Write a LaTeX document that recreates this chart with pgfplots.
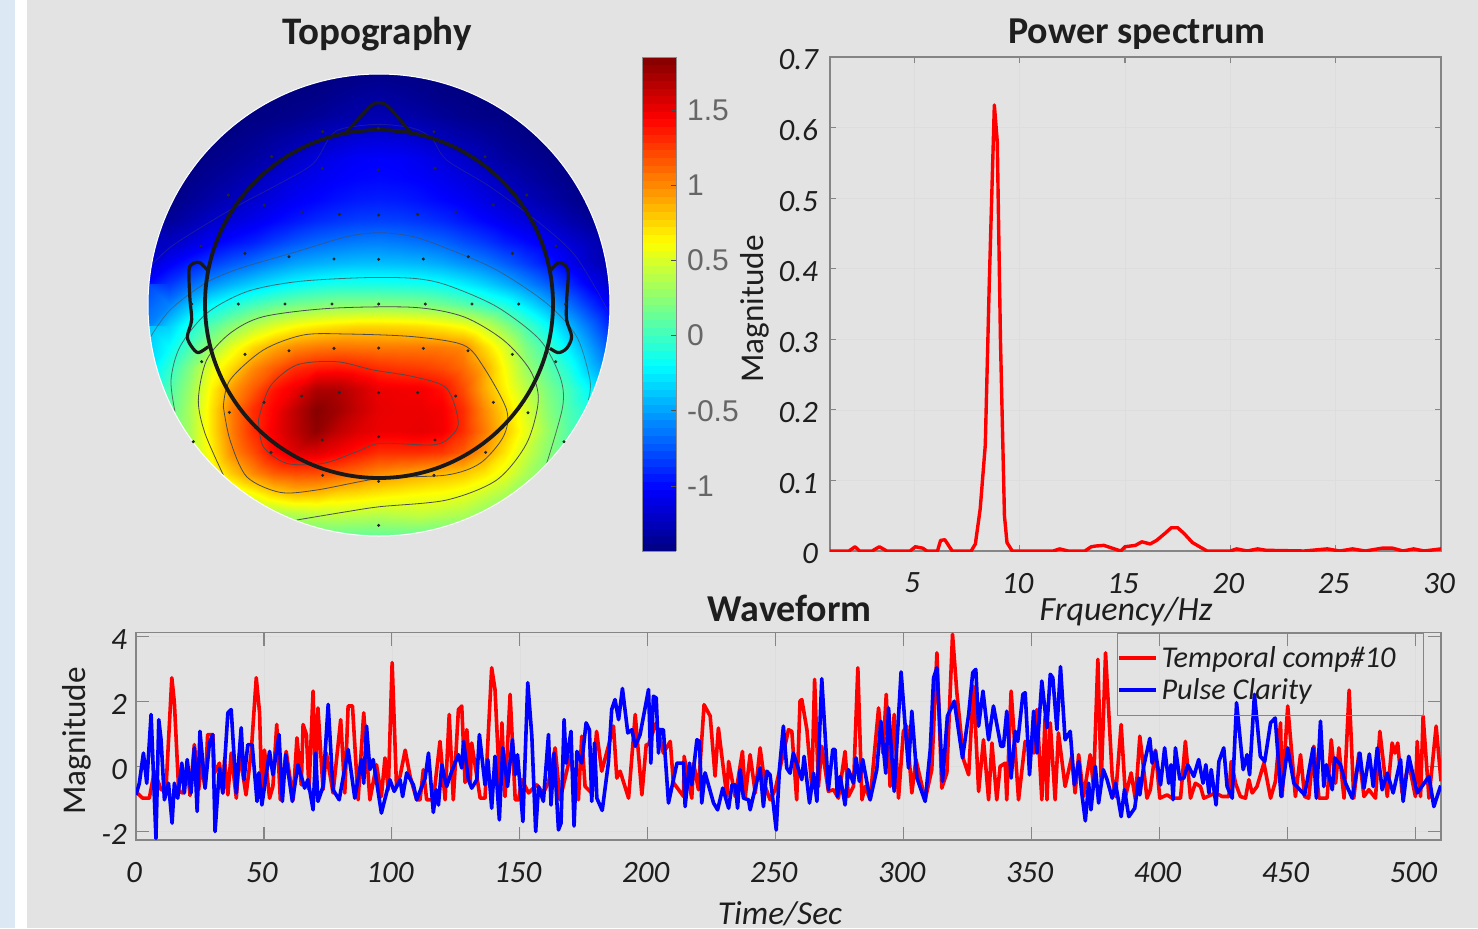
\documentclass[border=0pt]{standalone}
\usepackage{fontspec}
\usepackage{pgfplots}
\pgfplotsset{compat=1.18}
\setmainfont{Carlito}
\newfontfamily\cbfont{Liberation Sans}
\definecolor{bggray}{HTML}{E3E3E3}
\definecolor{framegray}{HTML}{858585}
\definecolor{gridgray}{HTML}{DDDDDD}
\definecolor{tl}{HTML}{1E1E1E}
\definecolor{stripblue}{HTML}{DCE8F4}
\pgfplotsset{
  plotaxis/.style={
    scale only axis, axis on top=false,
    axis line style={framegray,line width=0.7pt},
    tick style={framegray,line width=0.6pt},
    tick align=inside,
    grid=major, major grid style={gridgray,line width=0.3pt},
    tick label style={font=\itshape\fontsize{15.5}{16}\selectfont,text=tl},
    label style={text=tl},
    title style={font=\bfseries\fontsize{19}{20}\selectfont,text=tl},
  }
}
\begin{document}
\begin{tikzpicture}
\path[use as bounding box] (0,0) rectangle (739pt,464pt);
\fill[bggray] (0,0) rectangle (739pt,464pt);
\fill[white] (0,0) rectangle (13.5pt,464pt);
\fill[stripblue] (0,0) rectangle (7.5pt,464pt);

% Topography
\begin{axis}[
  at={(65pt,189pt)},anchor=south west,scale only axis,width=250pt,height=245pt,
  xmin=0,xmax=1500,ymin=0,ymax=1470,y dir=reverse,hide axis,clip=false,
  colormap/jet,point meta min=-1.432,point meta max=1.852,
  colorbar sampled,
  colorbar style={samples=65,at={(1.024,1.006)},anchor=north west,scale only axis,
    width=17pt,height=247pt,
    ytick={-1,-0.5,0,0.5,1,1.5},yticklabels={-1,-0.5,0,0.5,1,1.5},
    ytick pos=right,yticklabel pos=right,tick align=inside,
    major tick length=2.5pt,tick style={black!70,line width=0.4pt},
    axis line style={black!45,line width=0.4pt},
    yticklabel style={font=\cbfont\fontsize{15}{15}\selectfont,text=black!60,xshift=2pt},
  },
]
\addplot[surf,shader=interp,mesh/cols=23,point meta=explicit] table[
  row sep=\\,header=false,
  x expr={54+63*mod(\coordindex,23)},
  y expr={42+63*floor(\coordindex/23)},
  meta index=0] {
-1.43\\-1.43\\-1.43\\-1.43\\-1.43\\-1.43\\-1.43\\-1.43\\-1.43\\-1.42\\-1.41\\-1.40\\-1.41\\-1.42\\-1.43\\-1.43\\-1.43\\-1.43\\-1.43\\-1.43\\-1.43\\-1.43\\-1.43\\
-1.43\\-1.43\\-1.43\\-1.43\\-1.43\\-1.43\\-1.43\\-1.42\\-1.41\\-1.38\\-1.35\\-1.33\\-1.35\\-1.38\\-1.41\\-1.42\\-1.43\\-1.43\\-1.43\\-1.43\\-1.43\\-1.43\\-1.43\\
-1.43\\-1.43\\-1.43\\-1.43\\-1.43\\-1.42\\-1.41\\-1.39\\-1.36\\-1.32\\-1.29\\-1.28\\-1.29\\-1.32\\-1.36\\-1.39\\-1.41\\-1.42\\-1.43\\-1.43\\-1.43\\-1.43\\-1.43\\
-1.43\\-1.43\\-1.43\\-1.43\\-1.41\\-1.38\\-1.34\\-1.30\\-1.25\\-1.20\\-1.16\\-1.15\\-1.16\\-1.20\\-1.25\\-1.30\\-1.34\\-1.38\\-1.41\\-1.43\\-1.43\\-1.43\\-1.43\\
-1.43\\-1.43\\-1.43\\-1.40\\-1.37\\-1.33\\-1.27\\-1.20\\-1.14\\-1.08\\-1.04\\-1.03\\-1.04\\-1.08\\-1.14\\-1.20\\-1.27\\-1.33\\-1.37\\-1.40\\-1.43\\-1.43\\-1.43\\
-1.43\\-1.43\\-1.40\\-1.36\\-1.31\\-1.25\\-1.18\\-1.12\\-1.07\\-1.03\\-1.01\\-1.00\\-1.01\\-1.03\\-1.07\\-1.12\\-1.18\\-1.25\\-1.31\\-1.36\\-1.40\\-1.43\\-1.43\\
-1.43\\-1.42\\-1.36\\-1.30\\-1.24\\-1.18\\-1.11\\-1.05\\-1.01\\-0.97\\-0.94\\-0.93\\-0.94\\-0.97\\-1.01\\-1.05\\-1.11\\-1.18\\-1.24\\-1.30\\-1.36\\-1.42\\-1.43\\
-1.40\\-1.35\\-1.28\\-1.20\\-1.14\\-1.08\\-1.01\\-0.95\\-0.89\\-0.85\\-0.82\\-0.81\\-0.82\\-0.85\\-0.89\\-0.95\\-1.01\\-1.08\\-1.14\\-1.20\\-1.28\\-1.35\\-1.40\\
-1.30\\-1.22\\-1.14\\-1.05\\-0.98\\-0.92\\-0.83\\-0.75\\-0.69\\-0.65\\-0.62\\-0.61\\-0.63\\-0.66\\-0.70\\-0.77\\-0.84\\-0.93\\-1.00\\-1.07\\-1.16\\-1.24\\-1.32\\
-1.18\\-1.05\\-0.94\\-0.83\\-0.74\\-0.66\\-0.57\\-0.50\\-0.46\\-0.43\\-0.41\\-0.41\\-0.42\\-0.44\\-0.48\\-0.55\\-0.62\\-0.72\\-0.83\\-0.95\\-1.07\\-1.20\\-1.30\\
-1.00\\-0.85\\-0.69\\-0.55\\-0.44\\-0.35\\-0.27\\-0.20\\-0.15\\-0.12\\-0.12\\-0.12\\-0.13\\-0.14\\-0.18\\-0.25\\-0.34\\-0.45\\-0.58\\-0.72\\-0.88\\-1.05\\-1.20\\
-0.80\\-0.60\\-0.38\\-0.20\\-0.08\\0.03\\0.12\\0.18\\0.22\\0.25\\0.25\\0.25\\0.24\\0.22\\0.17\\0.10\\0.00\\-0.10\\-0.27\\-0.45\\-0.65\\-0.85\\-1.05\\
-0.60\\-0.35\\-0.12\\0.08\\0.25\\0.40\\0.52\\0.62\\0.68\\0.72\\0.75\\0.75\\0.74\\0.72\\0.67\\0.60\\0.45\\0.25\\0.03\\-0.18\\-0.42\\-0.65\\-0.90\\
-0.40\\-0.20\\0.05\\0.30\\0.55\\0.75\\0.90\\1.00\\1.05\\1.07\\1.06\\1.05\\1.05\\1.05\\1.04\\1.00\\0.75\\0.50\\0.20\\0.00\\-0.25\\-0.50\\-0.75\\
-0.30\\-0.05\\0.22\\0.55\\0.75\\1.00\\1.15\\1.30\\1.36\\1.38\\1.35\\1.30\\1.27\\1.25\\1.20\\1.10\\0.90\\0.60\\0.30\\0.10\\-0.10\\-0.38\\-0.60\\
-0.20\\0.05\\0.30\\0.65\\0.95\\1.15\\1.38\\1.50\\1.70\\1.70\\1.60\\1.50\\1.48\\1.47\\1.40\\1.20\\0.90\\0.65\\0.40\\0.20\\0.02\\-0.20\\-0.40\\
-0.10\\0.10\\0.35\\0.70\\1.05\\1.30\\1.45\\1.65\\1.83\\1.75\\1.62\\1.52\\1.50\\1.50\\1.47\\1.30\\1.00\\0.75\\0.50\\0.25\\0.05\\-0.10\\-0.25\\
0.00\\0.12\\0.35\\0.70\\1.05\\1.30\\1.48\\1.65\\1.80\\1.65\\1.55\\1.50\\1.50\\1.52\\1.48\\1.30\\1.05\\0.80\\0.55\\0.30\\0.08\\-0.05\\-0.15\\
0.05\\0.15\\0.35\\0.65\\1.00\\1.20\\1.42\\1.55\\1.55\\1.47\\1.38\\1.30\\1.30\\1.30\\1.27\\1.15\\0.95\\0.70\\0.45\\0.25\\0.10\\0.00\\-0.10\\
0.10\\0.15\\0.30\\0.55\\0.80\\1.00\\1.15\\1.20\\1.20\\1.15\\1.08\\1.00\\0.95\\0.90\\0.85\\0.80\\0.70\\0.55\\0.35\\0.20\\0.10\\0.05\\0.00\\
0.10\\0.10\\0.20\\0.30\\0.45\\0.60\\0.75\\0.83\\0.82\\0.75\\0.72\\0.68\\0.65\\0.62\\0.60\\0.55\\0.45\\0.35\\0.22\\0.15\\0.10\\0.10\\0.10\\
0.10\\0.10\\0.10\\0.15\\0.20\\0.25\\0.30\\0.36\\0.40\\0.42\\0.40\\0.38\\0.40\\0.42\\0.38\\0.35\\0.25\\0.18\\0.12\\0.10\\0.10\\0.10\\0.10\\
0.12\\0.12\\0.12\\0.12\\0.12\\0.12\\0.12\\0.12\\0.12\\0.12\\0.12\\0.12\\0.12\\0.12\\0.12\\0.12\\0.12\\0.12\\0.12\\0.12\\0.12\\0.12\\0.12\\
};
% contours
\addplot[smooth,black!70,opacity=0.35,line width=0.4pt] coordinates {(60,620)(130,555)(300,450)(450,370)(550,310)(600,230)(640,205)(747,193)(850,205)(905,235)(950,300)(1080,380)(1230,490)(1330,580)(1400,690)(1432,750)};
\addplot[smooth,black!70,opacity=0.6,line width=0.4pt] coordinates {(62,830)(120,750)(225,670)(330,625)(500,575)(650,530)(750,518)(850,530)(950,565)(1100,630)(1250,730)(1340,830)(1380,960)(1375,1020)};
\addplot[smooth,black!70,opacity=0.8,line width=0.4pt] coordinates {(135,1055)(123,960)(150,860)(230,760)(350,695)(500,665)(700,653)(850,655)(950,675)(1100,740)(1230,840)(1290,950)(1298,1040)(1250,1210)};
\addplot[smooth,black!70,line width=0.4pt] coordinates {(280,1245)(225,1120)(205,1020)(230,900)(300,820)(400,770)(600,745)(850,742)(1000,770)(1120,840)(1200,930)(1225,1020)(1190,1150)(1100,1260)(950,1320)(750,1340)(650,1355)(500,1380)};
\addplot[smooth,black!70,line width=0.4pt] coordinates {(280,1040)(300,960)(400,870)(520,825)(650,822)(850,830)(1000,855)(1060,920)(1130,1050)(1120,1130)(1050,1210)(950,1245)(750,1255)(560,1290)(450,1297)(350,1250)(300,1140)(280,1040)};
\addplot[smooth,black!70,line width=0.4pt] coordinates {(385,1080)(420,980)(500,915)(620,905)(730,930)(850,950)(950,985)(985,1090)(950,1140)(900,1155)(750,1150)(680,1175)(580,1210)(470,1210)(400,1160)(385,1080)};
% electrodes
\addplot[only marks,mark=*,mark size=0.55pt,black!85] coordinates {(745,205)(578,215)(912,215)(745,330)(577,325)(915,325)(403,435)(1090,435)(515,455)(628,463)(746,465)(863,463)(977,455)(213,558)(1278,558)(345,580)(477,590)(612,597)(746,598)(880,597)(1015,590)(1147,580)(185,732)(325,732)(465,732)(606,732)(746,732)(886,732)(1026,732)(1166,732)(1307,732)(345,883)(477,872)(612,865)(746,864)(880,865)(1014,872)(1147,883)(215,905)(1277,905)(515,1008)(628,998)(746,998)(863,998)(977,1008)(402,1027)(1090,1027)(298,1057)(1194,1058)(190,1145)(1302,1145)(577,1140)(746,1130)(915,1140)(423,1177)(1067,1177)(578,1246)(912,1246)(746,1264)(746,1396)(425,290)(1065,290)(295,405)(1190,405)};
% mask
\fill[bggray,even odd rule] (axis cs:30,20) rectangle (axis cs:1465,1450) (axis cs:747,735) circle[radius=115.5pt];
\draw[white,line width=0.5pt] (axis cs:747,735) circle[radius=115.5pt];
% head
\addplot[black!90,line width=1.6pt,smooth,line join=round] coordinates {(650,215)(720,140)(745,128)(775,140)(840,215)};
\addplot[black!90,line width=1.6pt,smooth,line join=round] coordinates {(232,630)(210,608)(190,610)(177,630)(180,720)(185,780)(172,830)(185,860)(205,878)(235,860)};
\addplot[black!90,line width=1.6pt,smooth,line join=round] coordinates {(1263,630)(1285,608)(1305,615)(1315,640)(1310,720)(1310,780)(1325,830)(1310,865)(1285,878)(1260,865)};
\draw[black!90,line width=1.9pt] (axis cs:747,732) circle[radius=87pt];
\node[font=\bfseries\fontsize{19.5}{20}\selectfont,text=tl] at (axis cs:741,-78) {Topography};
\end{axis}

% Power spectrum
\begin{axis}[plotaxis,
  at={(415pt,188.5pt)},anchor=south west,width=305.5pt,height=247pt,
  xmin=1,xmax=30,ymin=0,ymax=0.7,
  xtick={5,10,15,20,25,30},xticklabels={5,10,15,20,25,30},
  ytick={0,0.1,0.2,0.3,0.4,0.5,0.6,0.7},yticklabels={0,0.1,0.2,0.3,0.4,0.5,0.6,0.7},
  major tick length=3pt,
  xticklabel style={yshift=-7.5pt,xshift=-1pt},
  yticklabel style={xshift=-2.5pt,yshift=-1.5pt},
  title=Power spectrum,title style={at={(0.5025,1.0506)},anchor=center,yshift=-7pt},
  xlabel=Frquency/Hz,ylabel=Magnitude,
  every axis x label/.style={at={(axis description cs:0.4845,-0.1194)},anchor=center,yshift=-1pt,font=\itshape\fontsize{17}{18}\selectfont,text=tl},
  every axis y label/.style={at={(axis description cs:-0.1227,0.4899)},anchor=center,rotate=90,font=\fontsize{16.6}{17}\selectfont,text=tl},
]
\addplot[red,line width=1.7pt,line join=round] coordinates {(1,0)(1.9,0)(2.19,.006)(2.4,0)(3.0,0)(3.34,.006)(3.7,0)(4.8,0)(5.05,.006)(5.4,.004)(5.6,0)(6.1,0)(6.25,.015)(6.45,.016)(6.8,0)(7.7,0)(7.9,.01)(8.13,.06)(8.37,.15)(8.56,.38)(8.8,.632)(8.94,.58)(9.09,.3)(9.28,.05)(9.4,.012)(9.65,0)(11.6,0)(11.9,.003)(12.3,0)(13.1,0)(13.4,.006)(13.6,.007)(14,.008)(14.4,.004)(14.8,0)(15,.006)(15.5,.008)(15.8,.013)(16.2,.010)(16.5,.015)(16.9,.025)(17.2,.033)(17.5,.033)(17.8,.025)(18.2,.012)(18.6,.005)(18.9,0)(20,0)(20.3,.003)(20.8,0)(21.3,.003)(21.7,.001)(23.5,0)(24.6,.003)(25.2,0)(25.8,.003)(26.4,0)(27.2,.004)(27.7,.004)(28.2,0)(28.7,.003)(29.2,0)(30,.003)};
\end{axis}

% Waveform
\begin{axis}[plotaxis,
  at={(68pt,44pt)},anchor=south west,width=652.5pt,height=103.65pt,
  xmin=0,xmax=510,ymin=-2.27,ymax=4.12,
  xtick={0,50,...,500},xticklabels={0,50,100,150,200,250,300,350,400,450,500},
  ytick={-2,0,2,4},yticklabels={-2,0,2,4},
  major tick length=6.5pt,
  xticklabel style={yshift=-7.5pt,xshift=-1pt},
  yticklabel style={xshift=-1pt,yshift=-1.5pt},
  title=Waveform,title style={at={(0.501,1.119)},anchor=center,yshift=-6pt},
  xlabel=Time/Sec,ylabel=Magnitude,
  every axis x label/.style={at={(axis description cs:0.4935,-0.352)},anchor=center,yshift=-0.5pt,font=\itshape\fontsize{16.7}{17}\selectfont,text=tl},
  every axis y label/.style={at={(axis description cs:-0.0452,0.4776)},anchor=center,rotate=90,font=\fontsize{16.6}{17}\selectfont,text=tl},
  legend style={at={(0.987,1.0)},anchor=north east,draw=framegray,fill=none,line width=0.5pt,
    font=\itshape\fontsize{15.1}{16}\selectfont,text=tl,row sep=0pt,inner xsep=0pt,inner ysep=4.5pt},
  legend cell align=left,
  legend image code/.code={\draw[#1,line width=1.7pt] (0pt,0pt) -- (18.5pt,0pt);},
]
\addplot[red,line width=1.8pt,line join=round] coordinates {(0.6,-.83)(2.6,-.98)(5.2,-.98)(7.2,-.15)(9.8,-.72)(11.7,-.72)(14,2.73)(15,1.96)(16.7,-.77)(18.3,-.82)(20.2,-.1)(21.1,-.9)(22.8,.67)(24.5,-.72)(25.5,.1)(27,-.67)(28,.98)(30,.98)(30.7,-.2)(32.6,.1)(34,-.82)(34.6,.2)(35.9,-.88)(37.2,.41)(39.2,-.98)(40.5,.41)(43,-.88)(45,.41)(47,2.73)(48.3,1.65)(49.2,-1.03)(50.2,.5)(52.2,-.98)(53.5,-.62)(55,1.29)(56.4,-1.03)(58.7,.46)(61.4,-1.03)(62.9,.88)(64.6,-.57)(65.3,1.29)(66.6,.98)(67.6,-.72)(69.2,2.32)(70.2,-.62)(71.1,1.8)(73.1,-.72)(74.4,.41)(77,-.82)(80,1.44)(81.6,-.82)(82.9,1.86)(84.6,1.86)(86.8,-1.03)(89,1.65)(91.4,-1.03)(94,.05)(95.9,-.93)(97.3,.26)(98.6,-.72)(100.1,3.2)(101.8,-.62)(103.2,-.3)(105.2,.5)(107.1,-.3)(109.7,-1.03)(111,-1.03)(112.3,-.1)(113.6,-1.03)(116.2,-1.03)(118.8,.77)(120.8,-1.03)(122.4,1.6)(124,-1.03)(126,1.75)(127.3,1.86)(128.6,-.5)(129.3,1.13)(130.6,-.5)(131.2,.72)(134.5,-.98)(136.4,-.98)(139,3.04)(140.3,2.37)(142.3,-.93)(143,1.34)(144.2,-.93)(146.2,2.22)(148.2,-1.03)(149.5,-1.03)(150.8,-.41)(153.4,-.82)(156.6,-.57)(159.2,-.82)(161.2,-.5)(163.8,.57)(165.7,-1.03)(169.7,.31)(172.9,-1.03)(174.2,.93)(175.5,-.62)(178.1,-.82)(180,1.08)(182,-.15)(184.6,.62)(186.6,1.24)(187.9,-.36)(189.2,-.15)(192.5,-.98)(195.1,1.6)(197.7,-.88)(199.4,.67)(200.3,.67)(203.3,1.34)(206.1,.41)(208.8,.77)(210,-.5)(214,-.93)(214.2,.31)(217.2,-.98)(217.9,.1)(219.8,-.72)(222,1.9)(224.4,1.55)(226.3,-.3)(227.6,1.18)(230.9,-.93)(231.6,.15)(234.2,-.93)(237,.46)(238.1,-.93)(240,.36)(242,-.82)(243.9,.57)(245.9,-.62)(247.8,-1.03)(249.8,-.72)(253,.41)(255,1.13)(256.3,1.08)(258.2,-1.03)(259.5,2.01)(260.2,2.06)(262.2,1.13)(264.1,-.62)(265.2,2.68)(266.7,-.62)(268,.62)(270.6,-.77)(272.6,-.72)(274.5,-.98)(277.1,.46)(278.4,-.93)(280.4,-.62)(282.1,3.04)(283.7,-1.03)(285,-.62)(286.9,-1.03)(290.2,1.8)(291.9,.41)(293.2,2.22)(294.7,-.62)(296.3,1.6)(298,-.98)(299.9,1.08)(301.2,1.24)(303.2,-.82)(304.8,.21)(308.4,-1.03)(311,-.1)(313,3.5)(314.9,-.67)(316.9,-.2)(319.1,4.07)(320.8,2.27)(323.4,.21)(325.4,-.26)(327.3,2.47)(329.3,-.77)(331.2,.82)(333.2,-1.03)(334.5,.72)(336.4,-1.03)(337.7,0)(339.7,.1)(340.3,-1.03)(342,2.32)(344.9,-1.03)(347.5,.77)(350.8,.41)(352.1,1.75)(354,-1.03)(355.3,1.55)(356,-1.03)(357.3,1.34)(359.2,-1.03)(360.5,1.03)(363.1,-.62)(365.7,.31)(367,-.82)(368.4,.36)(370.3,-.93)(372.9,.36)(374.2,-.62)(375.9,3.3)(377.2,-.5)(378.9,3.5)(381.5,-.3)(382.8,-.93)(385,1.29)(386.7,-.93)(388.9,-.2)(390.6,-1.03)(392.3,.93)(395.1,-.98)(396.4,-.72)(398.4,.5)(400.1,-.98)(403,-.88)(404.9,-.98)(408.2,-.98)(410.1,.77)(412.1,-.98)(414,-.52)(416,-.62)(417.3,-.98)(421.9,-.82)(424.5,-.93)(427.1,-.93)(428,.15)(429.7,-.52)(431.6,-.93)(433.6,-.98)(434.9,-.41)(436.2,-.82)(438.1,-.62)(440.8,.1)(443.4,-.98)(445.3,-.46)(447.3,1.34)(447.9,-.93)(450.1,1.86)(453.1,-.93)(455.1,.36)(456.7,-.93)(458.3,-.98)(460.3,.62)(462.3,-.98)(465.5,-.98)(467.1,.82)(468.8,-.52)(470.1,.57)(472.1,-.98)(474.1,2.35)(475.9,-.98)(477.9,.41)(479.9,-.93)(481.8,-.72)(484.4,-.98)(486.1,1.08)(489,-.93)(490.9,.72)(492,.41)(493.1,.72)(494.8,-.82)(497.4,.1)(500,-.93)(500.7,.77)(502,-.93)(503,1.55)(505.3,-.98)(508.1,1.24)(510,-.46)};
\addlegendentry{Temporal comp\#10\hspace*{12pt}}
\addplot[blue,line width=1.8pt,line join=round] coordinates {(0,-.88)(1.3,-.52)(2.9,.41)(4.2,-.52)(5.9,1.6)(7.8,-2.22)(8.9,1.44)(9.8,.82)(11.1,-1.03)(12.7,-.52)(14.1,-1.75)(15,-.52)(16.3,-.98)(17.9,.1)(18.9,-.82)(20,.21)(21.5,-.82)(22.8,.57)(23.9,-1.39)(25,1.08)(27,-.67)(28.7,.72)(30,.98)(30.9,-2.01)(32.6,-.05)(33.9,-.82)(35.9,1.65)(37.2,1.75)(39.2,-.82)(41.1,1.19)(42.2,-.41)(43.7,.67)(45.4,.67)(47.3,-1.08)(48,-.2)(49.2,-1.19)(52.2,.46)(53.5,-.26)(55.9,.98)(57.2,-1.08)(58.5,.36)(61.1,-1.08)(63.3,.05)(65.9,-.67)(67.2,-.41)(69.2,-1.34)(70.2,.41)(71.1,-1.08)(73.1,-.62)(75.1,1.91)(77,-.72)(79.4,-1.03)(82.9,.52)(85.5,-.98)(88.1,.21)(89,-.52)(90.1,1.24)(91.4,-.1)(92.7,.21)(95.9,-1.44)(99.2,-.41)(100.9,-.77)(103.2,-.41)(104.2,-.93)(105.8,-.2)(108.4,-.57)(109.7,-1.03)(113,-.36)(114.3,.41)(116.2,-1.42)(117.3,-.72)(118.2,-1.19)(119.5,.05)(121.4,-.62)(123.4,-.15)(126,.36)(127.3,-.05)(128,.77)(129.9,-.41)(131.2,-.67)(133.2,-.41)(134.2,.98)(136.4,-.57)(137.5,.21)(139,-1.29)(140.3,.31)(142,-1.65)(143.3,.57)(145.2,-.62)(147.1,.82)(148.2,-.26)(149.1,.36)(151.2,-1.7)(153.1,2.58)(154.7,.93)(156.2,-2.01)(157.3,-.62)(159.2,-1.08)(161.2,.98)(162.2,-1.19)(163.4,.41)(165.1,-1.96)(166.1,-1.75)(167.3,1.44)(168.1,.1)(170,1.08)(171.2,-1.84)(172.3,.46)(174.2,.1)(175.9,1.34)(177.2,1.13)(178.1,-1.08)(179.2,.72)(180.1,-.98)(182.2,-1.36)(184.6,.1)(185.9,1.75)(187.2,2.06)(188.6,1.44)(190.1,2.4)(192.2,1.03)(193.8,1.13)(195.1,.62)(197,.98)(200.3,2.37)(201.2,.1)(202.2,2.16)(203.3,2.11)(204.2,.41)(204.8,1.13)(206.1,1.13)(208.1,-1.13)(211.4,.1)(214,.1)(214.6,-1.24)(216.3,.1)(217.2,-.57)(219.2,.82)(220.2,.77)(221.1,-1.13)(222.4,-.2)(225.7,-1.13)(227.3,-1.34)(229.3,-.67)(231.6,-1.29)(232.9,-.57)(234.2,-.57)(235.1,-1.29)(236.1,-.1)(237.4,-.98)(239.4,-1.03)(240,-1.34)(242,-.67)(243.9,-.05)(245.2,-1.24)(246.5,-.15)(247.8,-.26)(250.2,-1.96)(251.5,-.05)(253,1.24)(254.3,-.05)(255.6,-.21)(256.9,.41)(260.2,-.41)(261.1,.31)(263.2,-1.13)(264.8,-.21)(266.1,-1.08)(268,2.7)(270.6,-.72)(272.3,.52)(273.2,.52)(274.1,-.93)(275.2,-.31)(277.1,-1.19)(278.4,-.1)(280.4,-.52)(281.4,.26)(282.7,-.46)(284,.21)(286.9,-1.03)(289.5,-.1)(291.1,1.39)(293,-.21)(294.1,1.8)(296.3,-.77)(299,2.91)(300.6,1.24)(301.9,-.05)(303.2,1.7)(305.2,-.36)(308.4,-1.08)(310.4,.52)(311.7,2.73)(313,3.04)(315.2,-.46)(317.1,1.55)(319.8,2.01)(323,.26)(325.4,1.6)(327,2.89)(328.2,2.99)(329.3,1.24)(331,2.32)(333.2,.82)(335.1,1.86)(338,.62)(339,.62)(340.3,1.7)(342,-.36)(343.6,1.08)(344.6,.77)(346.6,2.22)(347.5,2.27)(349.2,-.26)(350.8,1.7)(352.1,.41)(354,2.63)(356,1.19)(357.3,2.84)(358.3,2.73)(359.9,1.13)(361.3,3.07)(363.1,.82)(365.1,1.08)(366.7,-.57)(368.4,.15)(369.7,-.88)(371,-1.68)(372.3,-.52)(373.2,-1.34)(374.9,0)(376.2,-1.13)(378,-.1)(379.5,-.41)(381.5,-.98)(382.8,-.52)(385,-1.55)(386.3,-.72)(388,-1.55)(390.3,-1.29)(391.9,-.36)(392.3,-.88)(393.8,0)(396.2,.86)(397.1,.1)(398.4,.46)(400.4,-.57)(402,.57)(403.6,-.52)(404.5,.05)(405.3,-1.03)(406.2,.57)(407.9,-.39)(409.5,-.36)(411,.05)(413.4,-.31)(415.3,.21)(417,-.52)(418.1,.05)(419.3,-.82)(420.2,-.1)(422.1,-1.19)(423.2,.15)(425.1,.57)(426.4,-.62)(428.4,-.98)(430.1,1.96)(432.7,-.1)(434.2,.36)(435.2,-.26)(437.1,2.22)(439.4,.31)(441.1,.15)(443.4,1.34)(445.2,1.49)(447.5,-.93)(450.1,.57)(452.5,-.52)(456.7,-.88)(460,.57)(461.3,-.98)(462.9,1.39)(464.2,-.62)(465.2,.05)(467.5,-.72)(468.5,.26)(470.7,.05)(472.7,-.52)(475.3,-.98)(478.3,.41)(479.9,-.67)(482,.38)(483.5,-.62)(485.1,.57)(487,-.72)(489,-.21)(491.3,-.82)(494.2,.21)(495.2,-1.08)(497.4,.31)(500.7,-.82)(505.3,-.31)(507.2,-1.24)(509.9,-.59)};
\addlegendentry{Pulse Clarity}
\end{axis}
\end{tikzpicture}
\end{document}
